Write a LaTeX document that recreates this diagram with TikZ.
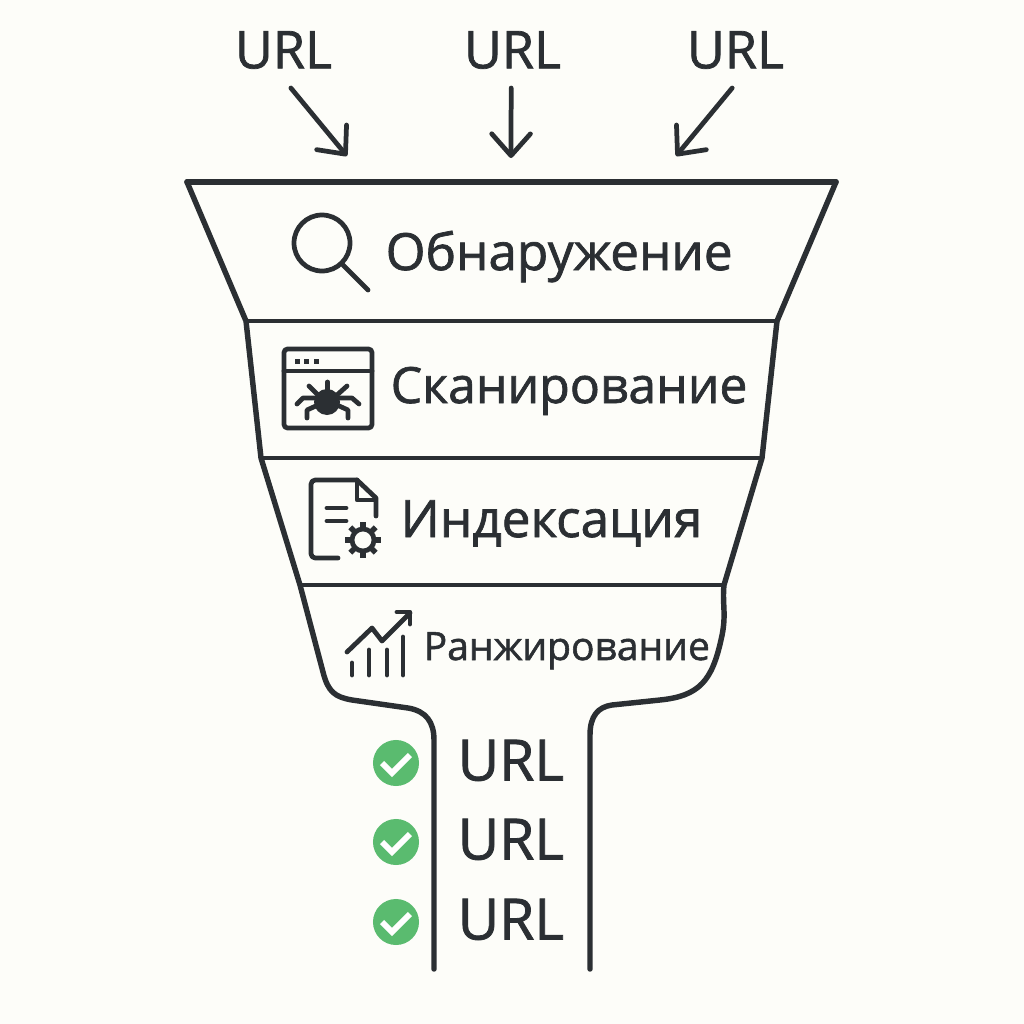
\documentclass[tikz,border=0pt]{standalone}
\usepackage{fontspec}
\setmainfont{Open Sans}[AutoFakeBold=1.4]
\usetikzlibrary{arrows.meta}
\definecolor{ink}{HTML}{2B2F33}
\definecolor{paper}{HTML}{FDFDF9}
\definecolor{okgreen}{HTML}{5ABB6F}
\tikzset{
  funnel/.style={draw=ink, line width=1.55pt, line join=round, line cap=round},
  divider/.style={draw=ink, line width=1.4pt},
  icon/.style={draw=ink, line width=1.35pt, line join=round, line cap=round},
  urlarrow/.style={draw=ink, line width=1.35pt, line cap=round,
    -{Straight Barb[length=6.2pt,width=11pt,round]}},
  urltop/.style={text=ink, font=\bfseries\fontsize{14.8}{17}\selectfont, inner sep=0pt, outer sep=0pt,
    minimum height=76*0.2845pt, minimum width=30pt},
  urlout/.style={text=ink, font=\bfseries\fontsize{16.2}{19}\selectfont, inner sep=0pt, anchor=base west},
  stage/.style={text=ink, inner sep=0pt, anchor=base west},
}
\begin{document}
\begin{tikzpicture}[x=0.01cm,y=-0.01cm]
  \useasboundingbox[fill=paper] (0,0) rectangle (1024,1024);
  % incoming
  \node[urltop] (urlA) at (283.5,50) {URL};
  \node[urltop] (urlB) at (512.5,50) {URL};
  \node[urltop] (urlC) at (735.5,50) {URL};
  \coordinate (tipA) at (347,156);
  \coordinate (tipB) at (511,158);
  \coordinate (tipC) at (676,156);
  \draw[urlarrow] (urlA.-79) -- (tipA);
  \draw[urlarrow] (urlB.-92) -- (tipB);
  \draw[urlarrow] (urlC.-95) -- (tipC);
  % outline
  \coordinate (topL) at (187,182);
  \coordinate (topR) at (836,182);
  \coordinate (midAL) at (246,321);
  \coordinate (midAR) at (777,321);
  \coordinate (midBL) at (261,458);
  \coordinate (midBR) at (762,458);
  \coordinate (midCL) at (300,585);
  \coordinate (midCR) at (724,585);
  \draw[funnel] (topL) -- (topR);
  \draw[funnel] (topL) -- (midAL) -- (midBL) -- (midCL) -- (323,672)
    .. controls (328,692) and (335,697) .. (352,700) -- (408,708)
    .. controls (426,711) and (434,722) .. (434,740) -- (434,969);
  \draw[funnel] (topR) -- (midAR) -- (midBR) -- (midCR) .. controls (722,605) and (727,615) .. (721,640)
    .. controls (712,680) and (700,696) .. (660,700) -- (612,705)
    .. controls (598,707) and (590,716) .. (590,735) -- (590,969);
  \draw[divider] (midAL) -- (midAR);
  \draw[divider] (midBL) -- (midBR);
  \draw[divider] (midCL) -- (midCR);
  % stages
  \node[stage, font=\bfseries\fontsize{14.55}{17}\selectfont] (found) at (385,270) {Обнаружение};
  \node[stage, font=\bfseries\fontsize{14.2}{17}\selectfont] (crawl) at (390,403) {Сканирование};
  \node[stage, font=\bfseries\fontsize{14.6}{17}\selectfont] (index) at (400,537) {Индексация};
  \node[stage, font=\bfseries\fontsize{11.1}{13}\selectfont] (rank) at (423,660) {Ранжирование};
  % magnifier
  \draw[icon] (322,243) circle (28);
  \draw[icon] (343,265) -- (368,290);
  % browser and bug
  \draw[icon, rounded corners=1pt] (284,349) rectangle (372,428);
  \draw[icon] (284,371) -- (372,371);
  \foreach \dotx in {297,306.5,316} \fill[ink] (\dotx-2.5,358.5) rectangle (\dotx+2.5,363.5);
  \fill[ink] (327,402) circle (13);
  \draw[icon] (327.5,382) -- (327.5,392);
  \draw[icon] (309,386) -- (318,395);
  \draw[icon] (347,386) -- (337,395);
  \draw[icon] (297,404) -- (303,398) -- (316,398);
  \draw[icon] (359,404) -- (352,398) -- (340,398);
  \draw[icon] (307,418) -- (307,410) -- (318,405);
  \draw[icon] (348,418) -- (348,410) -- (337,405);
  % document and gear
  \draw[icon, rounded corners=1.2pt] (338,558) -- (311,558) -- (311,480) -- (357,480);
  \draw[icon] (357,480) -- (376,498) -- (376,516);
  \draw[icon] (357,482) -- (357,500) -- (375,500);
  \draw[icon] (327,508) -- (346,508);
  \draw[icon] (327,521) -- (346,521);
  \draw[icon] (363,540) circle (11);
  \foreach \tooth in {0,45,...,315}
    \draw[icon, line width=1.6pt, line cap=butt] (363,540) ++(\tooth:12) -- ++(\tooth:6);
  % chart
  \draw[icon] (347,652) -- (372,628) -- (382,641) -- (410,613);
  \draw[icon] (397,612) -- (410,612) -- (410,624);
  \foreach \barx/\bartop in {352/663,369/650,387/650,403/637}
    \draw[icon] (\barx,\bartop) -- (\barx,675);
  % results
  \foreach \rowy/\rowid in {763/A,842/B,922/C}{
    \node[circle, fill=okgreen, inner sep=0pt, minimum size=46*0.2845pt] (ok\rowid) at (396,\rowy) {};
    \draw[white, line width=1.7pt] (382,\rowy) ++(0,0) -- ++(10,10) -- ++(18,-18);
    \node[urlout] (out\rowid) at (457,\rowy+17.5) {URL};
  }
\end{tikzpicture}
\end{document}
